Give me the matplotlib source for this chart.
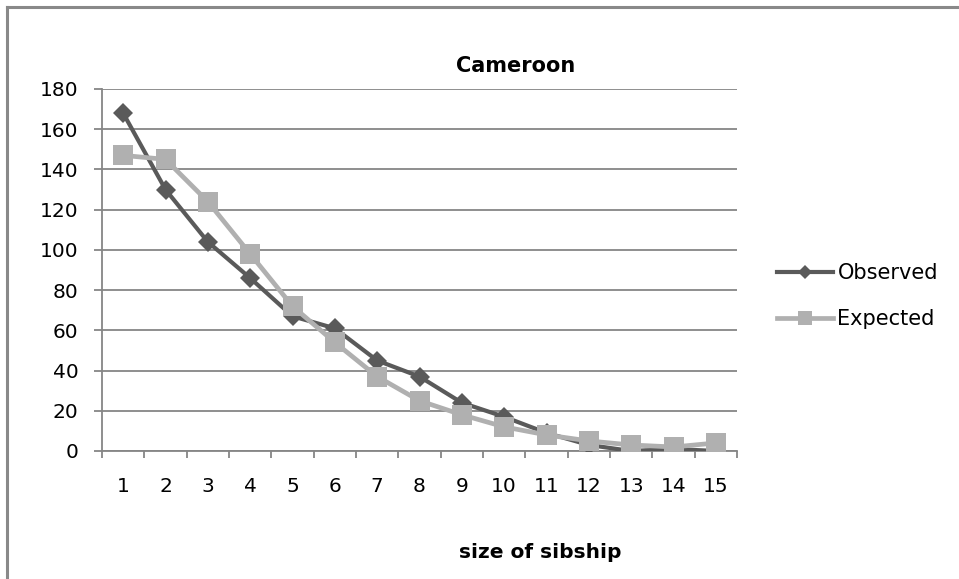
import numpy as np
import matplotlib.pyplot as plt
from matplotlib.lines import Line2D

sizes = list(range(1, 16))
observed = [168, 130, 104, 86, 67, 61, 45, 37, 24, 17, 9, 3, 0, 1, 0]
expected = [147, 145, 124, 98, 72, 54, 37, 25, 18, 12, 8, 5, 3, 2, 4]
yticks = list(range(0, 181, 20))

W, H = 959, 579
fig = plt.figure(figsize=(W / 100, H / 100), dpi=100)
ax = fig.add_axes([102 / W, 1 - 451 / H, (737 - 102) / W, (451 - 89) / H])

grey = '#868686'
c_obs = '#5a5a5a'
c_exp = '#b0b0b0'

ax.plot(sizes, observed, color=c_obs, lw=3, marker='D', markersize=10,
        markeredgewidth=0, zorder=3, label='Observed')
ax.plot(sizes, expected, color=c_exp, lw=3.4, marker='s', markersize=14,
        markeredgewidth=0, zorder=4, label='Expected')

ax.set_xlim(0.5, 15.5)
ax.set_ylim(0, 180)
ax.set_yticks(yticks)
ax.yaxis.grid(True, color=grey, lw=1.3)
ax.set_axisbelow(True)

# category boundaries carry the tick marks, labels sit in the middle
ax.set_xticks(np.arange(0.5, 16, 1))
ax.set_xticklabels([])
ax.set_xticks(sizes, minor=True)
ax.set_xticklabels([str(s) for s in sizes], minor=True)
ax.tick_params(axis='x', which='major', direction='out', length=5, width=1.3, color=grey)
ax.tick_params(axis='x', which='minor', length=0, pad=19, labelsize=14.5)
ax.tick_params(axis='y', direction='out', length=6, width=1.3, color=grey,
               pad=11, labelsize=14.5)

for s in ['top', 'right']:
    ax.spines[s].set_visible(False)
for s in ['left', 'bottom']:
    ax.spines[s].set_color(grey)
    ax.spines[s].set_linewidth(1.3)

fig.text(516 / W, 1 - 66 / H, 'Cameroon', ha='center', va='center',
         fontsize=15, fontweight='bold')
fig.text(540 / W, 1 - 552 / H, 'size of sibship', ha='center', va='center',
         fontsize=14.5, fontweight='bold')

handles = [
    Line2D([], [], color=c_obs, lw=3, marker='D', markersize=7, markeredgewidth=0),
    Line2D([], [], color=c_exp, lw=3.4, marker='s', markersize=10, markeredgewidth=0),
]
fig.legend(handles, ['Observed', 'Expected'], loc='center left',
           bbox_to_anchor=(777 / W, 1 - 296 / H), frameon=False, fontsize=15,
           handlelength=2.7, handletextpad=0.2, labelspacing=1.25,
           borderpad=0, borderaxespad=0)

# outer chart frame (left and top edges)
fig.add_artist(Line2D([7 / W, 7 / W], [0, 1 - 7 / H], color='#898989', lw=2.2))
fig.add_artist(Line2D([7 / W, 1], [1 - 7 / H, 1 - 7 / H], color='#898989', lw=2.2))

fig.savefig('out.png', dpi=100)
